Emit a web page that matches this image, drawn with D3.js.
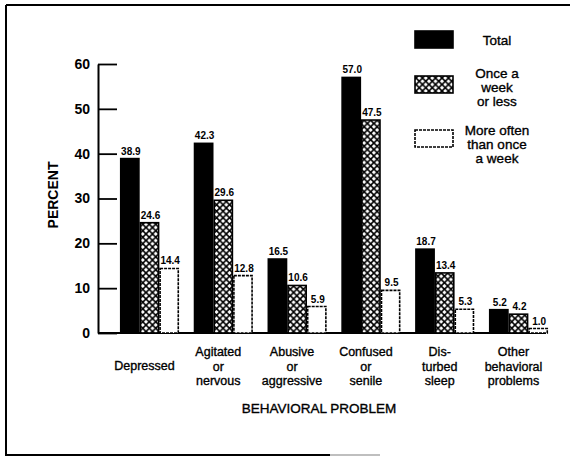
<!DOCTYPE html>
<html>
<head>
<meta charset="utf-8">
<script src="https://cdn.jsdelivr.net/npm/d3@7"></script>
<style>
  html, body { margin: 0; padding: 0; background: #fff; }
  svg { display: block; }
  text { font-family: "Liberation Sans", Arial, Helvetica, sans-serif; fill: #000; }
</style>
</head>
<body>
<svg id="chart" width="570" height="457"></svg>
<script>
// ---- data ----
const categories = ["Depressed", "Agitated or nervous", "Abusive or aggressive", "Confused or senile", "Disturbed sleep", "Other behavioral problems"];
const categoryLines = [["Depressed"], ["Agitated", "or", "nervous"], ["Abusive", "or", "aggressive"], ["Confused", "or", "senile"], ["Dis-", "turbed", "sleep"], ["Other", "behavioral", "problems"]];
const seriesNames = ["Total", "Once a week or less", "More often than once a week"];
const legendLines = [["Total"], ["Once a", "week", "or less"], ["More often", "than once", "a week"]];
const total = [38.9, 42.3, 16.5, 57.0, 18.7, 5.2];
const onceWeekOrLess = [24.6, 29.6, 10.6, 47.5, 13.4, 4.2];
const moreOften = [14.4, 12.8, 5.9, 9.5, 5.3, 1.0];
const yTicks = [0, 10, 20, 30, 40, 50, 60];
const yTitle = "PERCENT";
const xTitle = "BEHAVIORAL PROBLEM";

const seriesValues = [total, onceWeekOrLess, moreOften];
const rows = categories.map((c, i) => ({
  cat: c,
  values: seriesNames.map((s, j) => ({ series: s, idx: j, value: seriesValues[j][i] }))
}));

const svg = d3.select("#chart");

// crosshatch pattern
const defs = svg.append("defs");
const P = 6.5;
const pat = defs.append("pattern").attr("id", "xhatch")
  .attr("patternUnits", "userSpaceOnUse").attr("width", P).attr("height", P);
pat.append("rect").attr("width", P).attr("height", P).attr("fill", "#fff");
pat.append("path").attr("d", `M-1,-1L${P + 1},${P + 1}M${P + 1},-1L-1,${P + 1}`)
  .attr("stroke", "#000").attr("stroke-width", 1.6);

const fills = ["#000", "url(#xhatch)", "#fff"];

// frame
svg.append("line").attr("x1", 6).attr("x2", 570).attr("y1", 5).attr("y2", 5).attr("stroke", "#000").attr("stroke-width", 2);
svg.append("line").attr("x1", 6).attr("x2", 6).attr("y1", 5).attr("y2", 456).attr("stroke", "#000").attr("stroke-width", 2);
svg.append("line").attr("x1", 6).attr("x2", 330).attr("y1", 455).attr("y2", 455).attr("stroke", "#000").attr("stroke-width", 2);
svg.append("line").attr("x1", 330).attr("x2", 380).attr("y1", 455).attr("y2", 455).attr("stroke", "#aaa").attr("stroke-width", 1.5);

// scales
const y = d3.scaleLinear().domain([0, 60]).range([333, 64]);
const x0 = d3.scaleBand().domain(categories).range([112.6, 555.4]).paddingInner(0.2).paddingOuter(0.1);
const x1 = d3.scaleBand().domain(seriesNames).range([0, x0.bandwidth()]);

// y axis
const yAxis = d3.axisLeft(y).tickValues(yTicks).tickSizeInner(-19).tickSizeOuter(0).tickPadding(8).tickFormat(d3.format("d"));
const gy = svg.append("g").attr("transform", "translate(98,0)").call(yAxis);
gy.select(".domain").attr("stroke-width", 2);
gy.selectAll(".tick line").attr("stroke-width", 1.8);
gy.selectAll(".tick text").attr("font-size", 14).attr("font-weight", "bold")
  .attr("font-family", "'Liberation Sans', Arial, sans-serif");

// x baseline
svg.append("line").attr("x1", 98).attr("x2", x0(categories[categories.length - 1]) + x0.bandwidth() - 2)
  .attr("y1", y(0)).attr("y2", y(0)).attr("stroke", "#000").attr("stroke-width", 2);

// bars
const groups = svg.selectAll(".grp").data(rows).enter().append("g")
  .attr("class", "grp").attr("transform", d => `translate(${x0(d.cat)},0)`);

groups.selectAll("rect").data(d => d.values).enter().append("rect")
  .attr("x", d => x1(d.series) + 0.75)
  .attr("width", x1.bandwidth() - 1.5)
  .attr("y", d => y(d.value))
  .attr("height", d => y(0) - y(d.value))
  .attr("fill", d => fills[d.idx])
  .attr("stroke", "#000")
  .attr("stroke-width", 1.6)
  .attr("stroke-dasharray", d => d.idx === 2 ? "3,1" : null);

groups.selectAll("text.val").data(d => d.values).enter().append("text")
  .attr("class", "val")
  .attr("x", d => x1(d.series) + x1.bandwidth() / 2 + 1)
  .attr("y", d => y(d.value) - 4)
  .attr("text-anchor", "middle")
  .attr("font-size", 10).attr("font-weight", "bold")
  .text(d => d.value.toFixed(1));

// category labels
const catG = svg.selectAll(".cat").data(categories).enter().append("text")
  .attr("class", "cat")
  .attr("text-anchor", "middle")
  .attr("font-size", 12.5)
  .attr("stroke", "#000").attr("stroke-width", 0.35);
catG.each(function (c, i) {
  const lines = categoryLines[i];
  const cx = x0(c) + x0.bandwidth() / 2 - 5;
  const startY = lines.length === 1 ? 370 : 356;
  d3.select(this).selectAll("tspan").data(lines).enter().append("tspan")
    .attr("x", cx).attr("y", (l, k) => startY + k * 14.5).text(l => l);
});

// axis titles
svg.append("text").attr("x", 319).attr("y", 413).attr("text-anchor", "middle")
  .attr("font-size", 13.5).attr("stroke", "#000").attr("stroke-width", 0.35).text(xTitle);
svg.append("text").attr("transform", "translate(58,195) rotate(-90)").attr("text-anchor", "middle")
  .attr("font-size", 14).attr("font-weight", "bold").text(yTitle);

// legend
const legendSwatchY = [31, 76, 130];
const legendTextY = [45, 78, 135];
const lg = svg.selectAll(".lg").data(seriesNames).enter().append("g").attr("class", "lg");
lg.append("rect").attr("x", 415).attr("width", 38).attr("y", (d, i) => legendSwatchY[i]).attr("height", 17)
  .attr("fill", (d, i) => fills[i]).attr("stroke", "#000").attr("stroke-width", 1.6)
  .attr("stroke-dasharray", (d, i) => i === 2 ? "3,1" : null);
lg.append("text").attr("text-anchor", "middle").attr("font-size", 13.5)
  .attr("stroke", "#000").attr("stroke-width", 0.35)
  .each(function (d, i) {
    d3.select(this).selectAll("tspan").data(legendLines[i]).enter().append("tspan")
      .attr("x", 497).attr("y", (l, k) => legendTextY[i] + k * 14.2).text(l => l);
  });
</script>
</body>
</html>
